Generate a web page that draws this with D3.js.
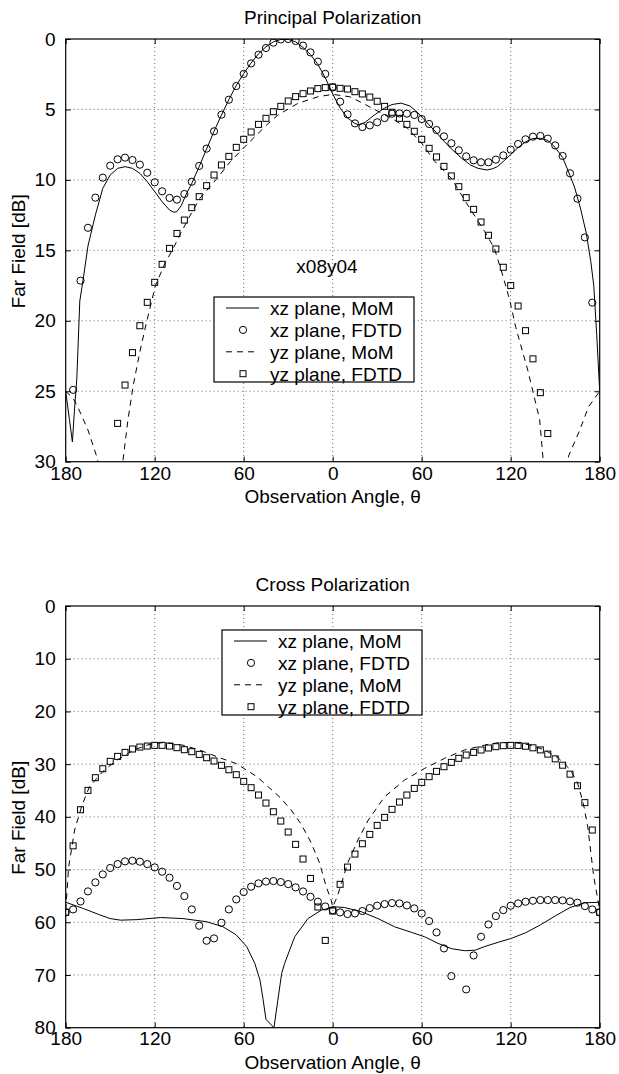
<!DOCTYPE html>
<html><head><meta charset="utf-8">
<script src="https://cdn.jsdelivr.net/npm/d3@7/dist/d3.min.js"></script>
<style>body{margin:0;background:#fff}text{font-family:"Liberation Sans",Arial,Helvetica,sans-serif;fill:#000}</style>
</head><body><svg id="chart" width="619" height="1074"></svg>
<script>
// ---------- data ----------
const xTicks = [-180, -120, -60, 0, 60, 120, 180];
const topYTicks = [0, 5, 10, 15, 20, 25, 30];
const botYTicks = [0, 10, 20, 30, 40, 50, 60, 70, 80];
const legendLabels = ["xz plane, MoM", "xz plane, FDTD", "yz plane, MoM", "yz plane, FDTD"];
const topTitle = "Principal Polarization";
const botTitle = "Cross Polarization";
const xLabel = "Observation Angle, \u03b8";
const yLabel = "Far Field [dB]";
const annotation = "x08y04";

// Principal polarization
const pXzMoM = [[-180,25.0],[-177.5,27.0],[-175.5,28.6],[-174,26.2],[-172.5,24.1],[-170.5,18.6],[-168,16.9],[-165,14.7],[-160,12.5],[-155,10.6],[-150,9.65],[-145,9.18],[-140,9.06],[-135,9.18],[-130,9.53],[-125,10.13],[-120,10.83],[-115,11.55],[-110,12.14],[-107,12.3],[-105,12.25],[-102,11.8],[-99,11.07],[-95,10.24],[-90,9.06],[-85,7.8],[-80,6.55],[-75,5.4],[-70,4.3],[-65,3.3],[-60,2.45],[-55,1.7],[-50,1.05],[-45,0.55],[-40,0.2],[-35,0.03],[-30,0.03],[-25,0.2],[-20,0.6],[-15,1.1],[-10,1.8],[-5,2.75],[0,3.9],[5,4.9],[10,5.6],[15,6.0],[18,6.1],[22,5.9],[28,5.4],[35,4.9],[40,4.65],[46,4.55],[52,4.75],[56,5.1],[61,5.63],[65,6.1],[70,6.65],[75,7.25],[80,7.8],[87,8.47],[93,8.95],[98,9.18],[104,9.3],[108,9.2],[111,9.06],[116,8.6],[120,8.2],[125,7.7],[130,7.3],[135,7.07],[140,7.05],[145,7.2],[150,7.7],[155,8.4],[160,9.7],[163,10.5],[167,12.0],[171,13.8],[174,15.8],[176,17.5],[178,21.0],[180,25.0]];
const pXzFdtd = [[-175,24.9],[-170,17.15],[-165,13.4],[-160,11.26],[-155,9.84],[-150,8.99],[-145,8.54],[-140,8.42],[-135,8.59],[-130,8.92],[-125,9.49],[-120,10.17],[-115,10.81],[-110,11.28],[-105,11.4],[-100,11.0],[-95,10.13],[-90,9.01],[-85,7.78],[-80,6.55],[-75,5.37],[-70,4.31],[-65,3.34],[-60,2.48],[-55,1.73],[-50,1.11],[-45,0.64],[-40,0.26],[-35,0.03],[-30,0.0],[-25,0.14],[-20,0.47],[-15,0.95],[-10,1.61],[-5,2.48],[0,3.43],[5,4.45],[10,5.35],[15,5.99],[20,6.25],[25,6.13],[30,5.91],[35,5.61],[40,5.3],[45,5.28],[50,5.3],[55,5.39],[60,5.68],[65,6.03],[70,6.46],[75,6.91],[80,7.4],[85,7.9],[90,8.33],[95,8.61],[100,8.75],[105,8.75],[110,8.56],[115,8.26],[120,7.85],[125,7.45],[130,7.12],[135,6.93],[140,6.88],[145,7.07],[150,7.55],[155,8.3],[160,9.53],[165,11.33],[170,14.08],[175,18.71]];
const pYzMoM = [[-180,25.0],[-175,25.5],[-171.5,26.2],[-165,27.75],[-159.5,29.5],[-157.5,30.3],[-154,34],[-150,40],[-146,34],[-141.5,30],[-138,27],[-134.5,24.6],[-130,22.2],[-125.5,20.1],[-119.5,17.5],[-113,15.9],[-107.5,14.86],[-103,13.9],[-96,12.5],[-89.5,11.3],[-78,9.9],[-69,8.7],[-56,7.3],[-44.5,6.1],[-37,5.4],[-23.5,4.57],[-10,4.1],[0,3.93],[11.5,4.1],[20.5,4.57],[30,5.1],[40,5.65],[50.5,6.34],[60,7.4],[69,8.71],[80,9.89],[91,11.78],[102.5,13.67],[109,14.86],[115,16.9],[119.5,18.6],[123.5,20.5],[131.5,23.5],[139.5,27.0],[142,30],[145,34],[150,40],[155,34],[159,29.6],[166,27.9],[172.5,26.1],[180,25.0]];
const pYzFdtd = [[-145,27.28],[-140,24.56],[-135,22.26],[-130,20.35],[-125,18.69],[-120,17.27],[-115,15.99],[-110,14.86],[-105,13.8],[-100,12.85],[-95,11.97],[-90,11.19],[-85,10.41],[-80,9.65],[-75,8.94],[-70,8.33],[-65,7.69],[-60,7.12],[-55,6.6],[-50,6.06],[-45,5.63],[-40,5.16],[-35,4.78],[-30,4.4],[-25,4.09],[-20,3.88],[-15,3.69],[-10,3.52],[-5,3.45],[0,3.41],[5,3.5],[10,3.55],[15,3.74],[20,3.9],[25,4.12],[30,4.42],[35,4.78],[40,5.2],[45,5.63],[50,6.06],[55,6.55],[60,7.12],[65,7.76],[70,8.37],[75,9.04],[80,9.72],[85,10.48],[90,11.26],[95,12.09],[100,12.99],[105,13.93],[110,14.9],[115,16.2],[120,17.5],[125,18.95],[130,20.7],[135,22.7],[140,25.1],[145,28.0]];

// Cross polarization
const cXzMoM = [[-180,56.2],[-168,57.4],[-157,58.6],[-150,59.3],[-143,59.6],[-132,59.5],[-116,59.1],[-101,59.3],[-85,59.9],[-74,60.85],[-65,62.4],[-58,64.6],[-52.5,67.8],[-49,71.0],[-47,74.5],[-45,78.4],[-39.6,80.0],[-37,74.8],[-34.4,69.7],[-32.4,67.8],[-25.6,62.75],[-16.7,59.3],[-7.7,57.7],[1.3,57.06],[8,57.2],[19.3,58.0],[30.5,59.3],[41.7,60.85],[53,61.9],[62,62.75],[71,64.0],[80,65.0],[89,65.4],[96,65.3],[102.5,64.6],[111.5,63.8],[120,63.1],[130,62.0],[140,60.5],[150,58.8],[160,57.2],[170,56.3],[180,56.2]];
const cXzFdtd = [[-180,58.1],[-175,57.56],[-170,56.04],[-165,54.14],[-160,52.43],[-155,50.92],[-150,49.7],[-145,48.96],[-140,48.45],[-135,48.32],[-130,48.51],[-125,48.96],[-120,49.59],[-115,50.41],[-110,51.55],[-105,53.1],[-100,55.03],[-95,57.56],[-90,60.66],[-85,63.5],[-80,63.06],[-75,60.09],[-70,57.56],[-65,55.66],[-60,54.27],[-55,53.26],[-50,52.62],[-45,52.27],[-40,52.18],[-35,52.37],[-30,52.75],[-25,53.38],[-20,54.15],[-15,55.16],[-10,56.1],[-5,57.0],[0,57.7],[5,58.13],[10,58.44],[15,58.32],[20,57.87],[25,57.31],[30,56.86],[35,56.55],[40,56.36],[45,56.42],[50,56.8],[55,57.37],[60,58.32],[65,59.77],[70,61.92],[75,64.96],[80,70.21],[90,72.74],[95,66.29],[100,62.74],[105,60.41],[110,58.82],[115,57.69],[120,56.86],[125,56.42],[130,56.1],[135,55.91],[140,55.79],[145,55.79],[150,55.79],[155,55.85],[160,56.04],[165,56.29],[170,56.93],[175,57.56],[180,58.13]];
const cYzMoM = [[-180,57.7],[-178,49.5],[-174,42.5],[-169,37.8],[-164,34.3],[-155,31.4],[-146,29.35],[-134,27.3],[-123,26.2],[-114,25.9],[-101,26.4],[-90,27.3],[-78,28.6],[-65,29.9],[-51,32.4],[-35.5,36.3],[-28,38.7],[-21,41.5],[-14.4,45.0],[-8.8,48.8],[-4.3,53.3],[-1,55.8],[0,57.1],[3,55.2],[5.5,53.0],[10,48.8],[17,44.4],[24,40.6],[35,36.2],[48.5,33.0],[62,30.8],[75.5,28.9],[89,27.3],[102.5,26.4],[112,25.9],[122,25.9],[132,26.3],[142,27.2],[152,28.8],[160,31.0],[165,33.5],[169,37.5],[172,42.0],[176,51.4],[180,57.7]];
const cYzFdtd = [[-180,58.1],[-175,45.5],[-170,38.65],[-165,34.98],[-160,32.57],[-155,30.87],[-150,29.47],[-145,28.53],[-140,27.77],[-135,27.13],[-130,26.76],[-125,26.57],[-120,26.44],[-115,26.44],[-110,26.57],[-105,26.88],[-100,27.26],[-95,27.64],[-90,28.15],[-85,28.78],[-80,29.41],[-75,30.23],[-70,31.06],[-65,32.0],[-60,33.27],[-55,34.47],[-50,35.86],[-45,37.38],[-40,39.03],[-35,40.8],[-30,42.88],[-25,45.22],[-20,48.0],[-15,51.68],[-10,57.1],[-5,63.44],[0,57.87],[5,52.8],[10,49.53],[15,47.06],[20,45.1],[25,43.33],[30,41.62],[35,40.1],[40,38.58],[45,37.19],[50,35.86],[55,34.6],[60,33.46],[65,32.38],[70,31.37],[75,30.49],[80,29.67],[85,28.9],[90,28.27],[95,27.77],[100,27.32],[105,26.94],[110,26.69],[115,26.5],[120,26.44],[125,26.45],[130,26.6],[135,26.9],[140,27.3],[145,28.1],[150,29.0],[155,30.2],[160,31.9],[165,34.1],[170,37.3],[175,42.5],[180,58.1]];

// ---------- drawing ----------
const svg = d3.select("#chart");
const FS = 19;
const L = 65.7, R = 599.7;

function panel(cfg) {
  const x = d3.scaleLinear().domain([-180, 180]).range([L, R]);
  const y = d3.scaleLinear().domain([cfg.yTicks[0], cfg.yTicks[cfg.yTicks.length-1]]).range([cfg.top, cfg.bottom]);
  const g = svg.append("g");
  const clipId = "clip" + cfg.id;
  svg.append("clipPath").attr("id", clipId).append("rect")
    .attr("x", L).attr("y", cfg.top).attr("width", R - L).attr("height", cfg.bottom - cfg.top);

  // grid
  const grid = g.append("g").attr("stroke", "#707070").attr("stroke-width", 1).attr("stroke-dasharray", "1,3");
  xTicks.slice(1, -1).forEach(t => grid.append("line").attr("x1", x(t)).attr("x2", x(t)).attr("y1", cfg.top).attr("y2", cfg.bottom));
  cfg.yTicks.slice(1, -1).forEach(t => grid.append("line").attr("x1", L).attr("x2", R).attr("y1", y(t)).attr("y2", y(t)));

  // axes with inside ticks
  const fmt = d => Math.abs(d);
  const ax = g.append("g").attr("transform", `translate(0,${cfg.bottom})`).call(d3.axisBottom(x).tickValues(xTicks).tickFormat(fmt).tickSizeInner(-5).tickSizeOuter(0).tickPadding(9));
  const axT = g.append("g").attr("transform", `translate(0,${cfg.top})`).call(d3.axisTop(x).tickValues(xTicks).tickFormat("").tickSizeInner(-5).tickSizeOuter(0));
  const ay = g.append("g").attr("transform", `translate(${L},0)`).call(d3.axisLeft(y).tickValues(cfg.yTicks).tickFormat(d3.format("d")).tickSizeInner(-5).tickSizeOuter(0).tickPadding(10));
  const ayR = g.append("g").attr("transform", `translate(${R},0)`).call(d3.axisRight(y).tickValues(cfg.yTicks).tickFormat("").tickSizeInner(-5).tickSizeOuter(0));
  [ax, axT, ay, ayR].forEach(a => {
    a.select(".domain").remove();
    a.selectAll("line").attr("stroke", "#000");
    a.selectAll("text").attr("font-size", FS).attr("font-family", '"Liberation Sans",Arial,sans-serif').attr("fill", "#000");
  });
  ax.selectAll("text").attr("dy", "0.71em").attr("y", cfg.xLabY);
  // box
  g.append("rect").attr("x", L).attr("y", cfg.top).attr("width", R - L).attr("height", cfg.bottom - cfg.top)
    .attr("fill", "none").attr("stroke", "#000").attr("stroke-width", 1.2);

  // lines
  const line = d3.line().x(d => x(d[0])).y(d => y(d[1]));
  const pg = g.append("g").attr("clip-path", `url(#${clipId})`);
  pg.append("path").datum(cfg.xzMoM).attr("d", line).attr("fill", "none").attr("stroke", "#000").attr("stroke-width", 1);
  pg.append("path").datum(cfg.yzMoM).attr("d", line).attr("fill", "none").attr("stroke", "#000").attr("stroke-width", 1).attr("stroke-dasharray", "6,5");
  // markers
  pg.selectAll(".c").data(cfg.xzFdtd).enter().append("circle")
    .attr("cx", d => x(d[0])).attr("cy", d => y(d[1])).attr("r", 3.6)
    .attr("fill", "none").attr("stroke", "#000").attr("stroke-width", 1);
  const s = 6;
  pg.selectAll(".s").data(cfg.yzFdtd).enter().append("rect")
    .attr("x", d => x(d[0]) - s/2).attr("y", d => y(d[1]) - s/2).attr("width", s).attr("height", s)
    .attr("fill", "none").attr("stroke", "#000").attr("stroke-width", 1);

  // title & labels
  svg.append("text").attr("x", (L + R) / 2).attr("y", cfg.top - 15).attr("text-anchor", "middle").attr("font-size", FS).text(cfg.title);
  svg.append("text").attr("x", (L + R) / 2).attr("y", cfg.bottom + 41).attr("text-anchor", "middle").attr("font-size", FS).text(xLabel);
  svg.append("text").attr("transform", `translate(24.5,${(cfg.top + cfg.bottom) / 2 + 1}) rotate(-90)`).attr("text-anchor", "middle").attr("font-size", FS).text(yLabel);

  // legend
  const lg = svg.append("g").attr("transform", `translate(${cfg.legX},${cfg.legY})`);
  lg.append("rect").attr("x", 0).attr("y", 0).attr("width", 200).attr("height", 85).attr("fill", "#fff").attr("stroke", "#000").attr("stroke-width", 1.2);
  legendLabels.forEach((lab, i) => {
    const cy = 11 + 21.9 * i;
    if (i === 0 || i === 2) {
      lg.append("line").attr("x1", 12).attr("x2", 45).attr("y1", cy).attr("y2", cy).attr("stroke", "#000").attr("stroke-width", 1).attr("stroke-dasharray", i === 2 ? "6,5" : null);
    } else if (i === 1) {
      lg.append("circle").attr("cx", 29).attr("cy", cy).attr("r", 3.6).attr("fill", "none").attr("stroke", "#000");
    } else {
      lg.append("rect").attr("x", 29 - s/2).attr("y", cy - s/2).attr("width", s).attr("height", s).attr("fill", "none").attr("stroke", "#000");
    }
    lg.append("text").attr("x", 56).attr("y", cy + 6.8).attr("font-size", FS).text(lab);
  });
  return {x, y};
}

panel({id: 1, top: 39, bottom: 461.7, yTicks: topYTicks, title: topTitle, xLabY: 5,
  xzMoM: pXzMoM, xzFdtd: pXzFdtd, yzMoM: pYzMoM, yzFdtd: pYzFdtd, legX: 214, legY: 297});
svg.append("text").attr("x", 327).attr("y", 272.5).attr("text-anchor", "middle").attr("font-size", FS).text(annotation);
panel({id: 2, top: 606, bottom: 1027.7, yTicks: botYTicks, title: botTitle, xLabY: 4,
  xzMoM: cXzMoM, xzFdtd: cXzFdtd, yzMoM: cYzMoM, yzFdtd: cYzFdtd, legX: 222, legY: 630});
</script></body></html>
